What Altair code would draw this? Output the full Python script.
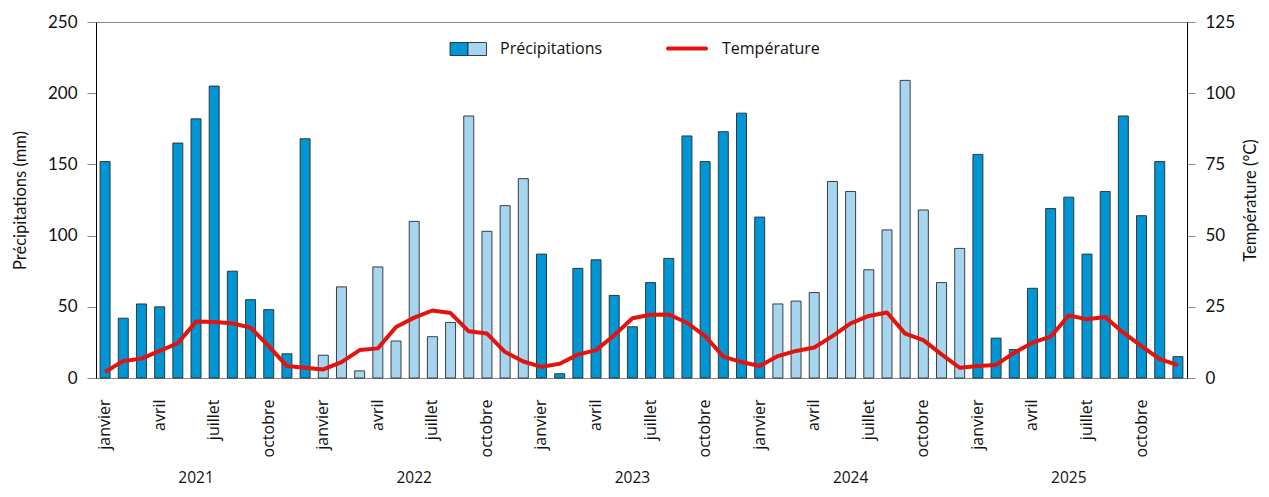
import altair as alt
import pandas as pd

# ---- data ----
month_names = ["janvier", "février", "mars", "avril", "mai", "juin",
               "juillet", "août", "septembre", "octobre", "novembre", "décembre"]
shown_months = ["janvier", "avril", "juillet", "octobre"]
years = [2021, 2022, 2023, 2024, 2025]

precip = [
    152, 42, 52, 50, 165, 182, 205, 75, 55, 48, 17, 168,      # 2021
    16, 64, 5, 78, 26, 110, 29, 39, 184, 103, 121, 140,       # 2022
    87, 3, 77, 83, 58, 36, 67, 84, 170, 152, 173, 186,        # 2023
    113, 52, 54, 60, 138, 131, 76, 104, 209, 118, 67, 91,     # 2024
    157, 28, 20, 63, 119, 127, 87, 131, 184, 114, 152, 15,    # 2025
]
temperature = [
    2.1, 6.0, 6.8, 9.5, 12.2, 19.8, 19.7, 19.2, 17.7, 11.2, 4.2, 3.6,
    3.0, 5.6, 9.8, 10.4, 17.9, 21.2, 23.7, 22.8, 16.4, 15.6, 9.1, 5.8,
    3.9, 5.0, 8.2, 9.8, 15.0, 21.0, 22.2, 22.3, 19.4, 14.7, 7.5, 5.6,
    4.2, 7.7, 9.5, 10.7, 14.7, 19.2, 21.8, 23.0, 15.6, 13.3, 8.3, 3.6,
    4.2, 4.6, 8.9, 12.4, 14.5, 22.0, 20.6, 21.4, 15.9, 11.2, 6.6, 4.5,
]
shade = (["foncé"] * 12 + ["clair"] * 12 + ["foncé"] * 13 + ["clair"] * 11 + ["foncé"] * 12)

DARK = "#0095D4"
LIGHT = "#A6D6EF"
RED = "#E3140F"
FONT = "Open Sans"
NUMFONT = "Lato"

n = len(precip)
df = pd.DataFrame({
    "idx": list(range(n)),
    "year": [years[i // 12] for i in range(n)],
    "mois": [month_names[i % 12] for i in range(n)],
    "precip": precip,
    "temp": temperature,
    "shade": shade,
})
df_years = pd.DataFrame({"idx": [12 * k + 5 for k in range(len(years))],
                         "label": [str(y) for y in years]})

W, H = 1091, 356

shown_idx = [month_names.index(m) for m in shown_months]
label_expr = " : ".join(
    [f"datum.value % 12 == {i} ? '{month_names[i]}'" for i in shown_idx]
) + " : ''"

xscale = alt.Scale(paddingInner=0.45, paddingOuter=0.225)
xaxis = alt.Axis(title=None, labelExpr=label_expr, labelAngle=270, ticks=False,
                 domainColor="#888888", labelPadding=21, labelFont=FONT,
                 labelFontSize=16, labelColor="#111111")

bars = alt.Chart(df).mark_bar(stroke="#2a2a2a", strokeWidth=0.9).encode(
    x=alt.X("idx:O", scale=xscale, axis=xaxis),
    y=alt.Y("precip:Q", scale=alt.Scale(domain=[0, 250], nice=False),
            axis=alt.Axis(title="Précipitations (mm)", values=[0, 50, 100, 150, 200, 250],
                          grid=False, domainColor="#000000", tickColor="#888888",
                          tickSize=9, labelPadding=10, labelFont=NUMFONT, labelFontSize=17,
                          titleFont=NUMFONT, titleFontSize=16.5, titleFontWeight="normal",
                          titlePadding=19, labelColor="#111111", titleColor="#111111")),
    color=alt.Color("shade:N", scale=alt.Scale(domain=["foncé", "clair"], range=[DARK, LIGHT]),
                    legend=None),
)

line = alt.Chart(df).mark_line(color=RED, strokeWidth=4, strokeJoin="round").encode(
    x=alt.X("idx:O", scale=xscale, axis=xaxis),
    y=alt.Y("temp:Q", scale=alt.Scale(domain=[0, 125], nice=False),
            axis=alt.Axis(title="Température (°C)", orient="right", titleAngle=270,
                          values=[0, 25, 50, 75, 100, 125], grid=False,
                          domainColor="#000000", tickColor="#888888", tickSize=8,
                          labelPadding=10, labelFont=NUMFONT, labelFontSize=17,
                          titleFont=NUMFONT, titleFontSize=16.5, titleFontWeight="normal",
                          titlePadding=24, labelColor="#111111", titleColor="#111111")),
)

year_text = alt.Chart(df_years).mark_text(font=FONT, fontSize=15.5, baseline="middle",
                                          color="#111111").encode(
    x=alt.X("idx:O", scale=xscale, axis=xaxis),
    y=alt.value(H + 100),
    text="label:N",
)

# ---- hand-made legend ----
one = pd.DataFrame({"k": [0]})
sw_dark = alt.Chart(one).mark_rect(color=DARK, stroke="#2a2a2a", strokeWidth=0.9).encode(
    x=alt.value(354), x2=alt.value(372), y=alt.value(20.5), y2=alt.value(33.5))
sw_light = alt.Chart(one).mark_rect(color=LIGHT, stroke="#2a2a2a", strokeWidth=0.9).encode(
    x=alt.value(372), x2=alt.value(390.5), y=alt.value(20.5), y2=alt.value(33.5))
lg_text1 = alt.Chart(one).mark_text(text="Précipitations", font=FONT, fontSize=16,
                                    align="left", baseline="middle", color="#111111").encode(
    x=alt.value(404), y=alt.value(26.5))
lg_line = alt.Chart(one).mark_rule(color=RED, strokeWidth=4, strokeCap="round").encode(
    x=alt.value(572), x2=alt.value(610), y=alt.value(26.5))
lg_text2 = alt.Chart(one).mark_text(text="Température", font=FONT, fontSize=16,
                                    align="left", baseline="middle", color="#111111").encode(
    x=alt.value(626), y=alt.value(26.5))

chart = alt.layer(
    bars, line, year_text, sw_dark, sw_light, lg_text1, lg_line, lg_text2
).resolve_scale(y="independent").properties(
    width=W, height=H,
    autosize=alt.AutoSizeParams(type="none"),
    padding={"left": 88, "top": 14, "right": 74, "bottom": 111},
).configure_view(stroke="#888888", strokeWidth=1)

chart.save("out.html", embed_options={"renderer": "svg", "actions": False})
